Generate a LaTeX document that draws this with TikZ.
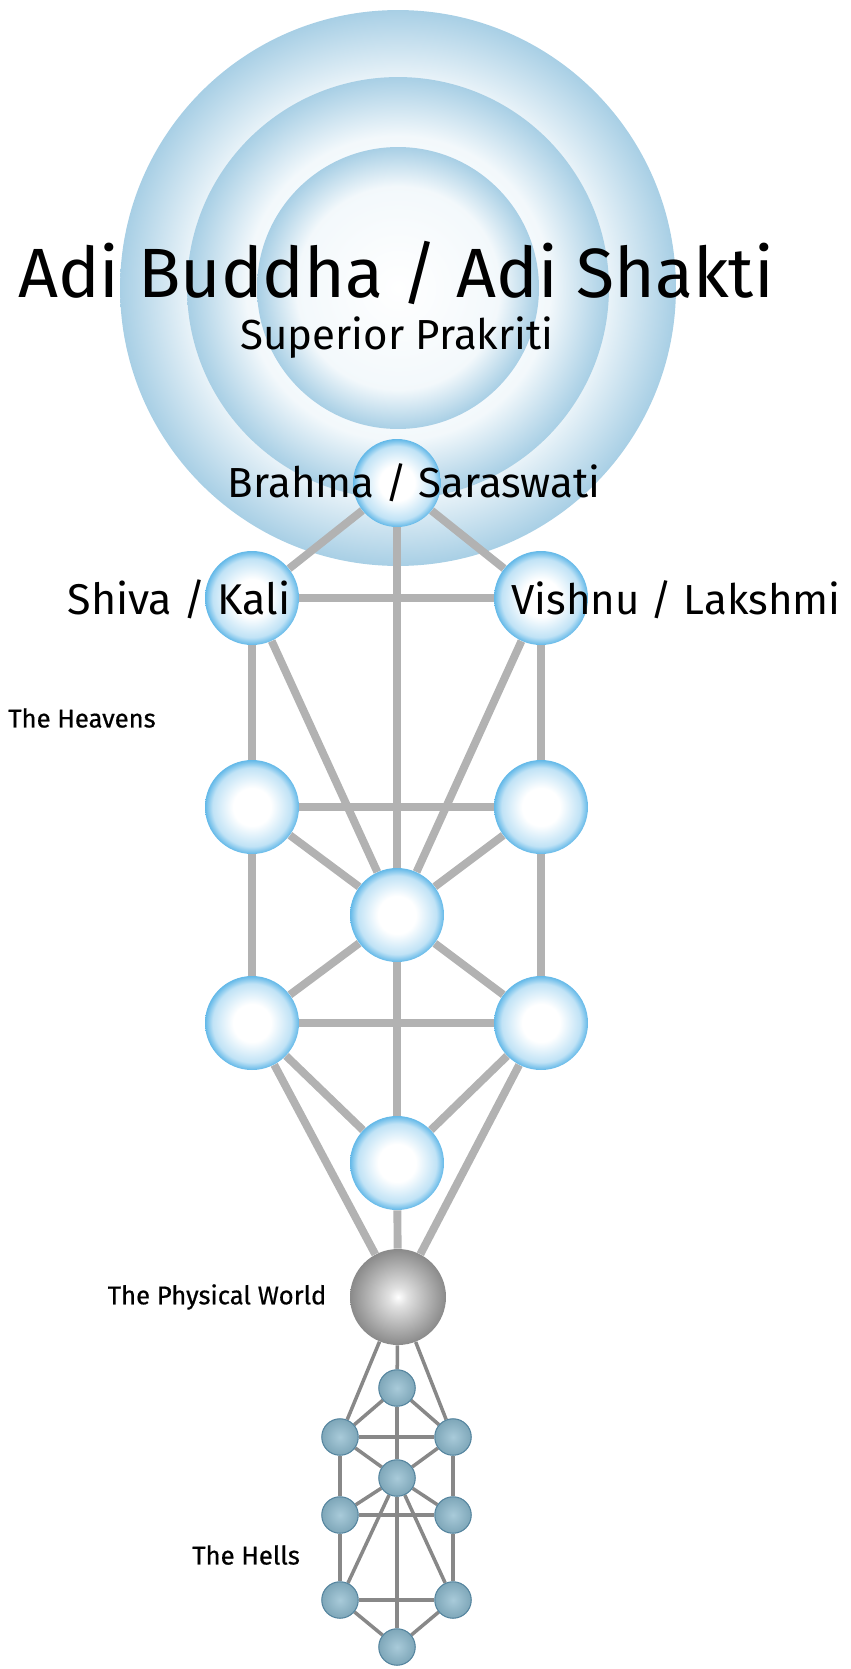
\documentclass[tikz,border=0pt]{standalone}
\usepackage{fontspec}
\setmainfont{Fira Sans}
\newfontfamily\realmfont{Fira Sans}[FakeBold=0.6]
\usetikzlibrary{positioning,backgrounds}
\definecolor{skyrim}{RGB}{98,184,232}
\definecolor{haloblue}{RGB}{168,207,229}
\definecolor{pathgray}{RGB}{178,178,178}
\definecolor{hellgray}{RGB}{136,136,136}
\definecolor{hellfill}{RGB}{140,185,205}
\definecolor{hellrim}{RGB}{84,132,158}
\definecolor{worldgray}{RGB}{138,138,138}
\pgfdeclareradialshading{sephira}{\pgfpoint{0bp}{0bp}}{color(0bp)=(white); color(10bp)=(white); color(21bp)=(skyrim!40); color(25bp)=(skyrim); color(50bp)=(skyrim)}
\pgfdeclareradialshading{halo}{\pgfpoint{0bp}{0bp}}{color(0bp)=(white); color(18bp)=(haloblue!14); color(25bp)=(haloblue); color(50bp)=(haloblue)}
\pgfdeclareradialshading{worldball}{\pgfpoint{0bp}{0bp}}{color(0bp)=(white); color(5bp)=(white!88!black); color(25bp)=(worldgray); color(50bp)=(worldgray)}
\pgfdeclareradialshading{hellball}{\pgfpoint{0bp}{0bp}}{color(0bp)=(hellfill!75!white); color(25bp)=(hellfill!90!black); color(50bp)=(hellfill!90!black)}

\begin{document}
\begin{tikzpicture}[x=0.02cm, y=-0.02cm,
    sephira/.style={circle, inner sep=0pt, minimum size=1.88cm, shade, shading=sephira},
    hell/.style={circle, inner sep=0pt, minimum size=0.73cm, shade, shading=hellball, draw=hellrim, line width=0.6pt},
    pathway/.style={pathgray, line width=4.5pt},
    hellway/.style={hellgray, line width=2pt},
    deity/.style={inner sep=0pt, anchor=base, font=\fontsize{23.9}{28}\selectfont},
    realm/.style={inner sep=0pt, font=\realmfont\fontsize{14.6}{17}\selectfont}]
  \useasboundingbox (0,0) rectangle (850,1669);
  \coordinate (halo) at (398,288);
  % Upper tree
  \node[sephira, minimum size=1.76cm] (brahma) at (397,483) {};
  \node[sephira] (shiva) at (252,598) {};
  \node[sephira] (vishnu) at (541,598) {};
  \node[sephira] (midl) at (252,807) {};
  \node[sephira] (midr) at (541,807) {};
  \node[sephira] (heart) at (397,915) {};
  \node[sephira] (lowl) at (252,1023) {};
  \node[sephira] (lowr) at (541,1023) {};
  \node[sephira] (root) at (397,1163) {};
  % Physical world
  \node[circle, inner sep=0pt, minimum size=1.92cm, shade, shading=worldball] (world) at (398,1297) {};
  % Hells
  \node[hell] (htop) at (397,1388) {};
  \node[hell] (hlu) at (340,1437) {};
  \node[hell] (hru) at (453,1437) {};
  \node[hell] (hmid) at (397,1478) {};
  \node[hell] (hlm) at (340,1515) {};
  \node[hell] (hrm) at (453,1515) {};
  \node[hell] (hll) at (340,1600) {};
  \node[hell] (hrl) at (453,1600) {};
  \node[hell] (hbot) at (397,1647) {};
  \begin{pgfonlayer}{background}
    % Halo
    \shade[shading=halo] (halo) circle (5.56cm);
    \shade[shading=halo] (halo) circle (4.22cm);
    \shade[shading=halo] (halo) circle (2.82cm);
    % Paths
    \foreach \a/\b in {brahma/shiva, brahma/vishnu, brahma/heart, shiva/vishnu, shiva/midl,
        vishnu/midr, shiva/heart, vishnu/heart, midl/midr, midl/heart, midr/heart,
        midl/lowl, midr/lowr, heart/lowl, heart/lowr, lowl/lowr, heart/root,
        lowl/root, lowr/root, lowl/world, lowr/world, root/world}
      \draw[pathway] (\a) -- (\b);
    \foreach \a/\b in {world/hlu, world/htop, world/hru, htop/hlu, htop/hru, hlu/hru,
        htop/hmid, hlu/hmid, hru/hmid, hlu/hlm, hru/hrm, hmid/hlm, hmid/hrm, hlm/hrm,
        hmid/hll, hmid/hrl, hmid/hbot, hlm/hll, hrm/hrl, hll/hrl, hll/hbot, hrl/hbot}
      \draw[hellway] (\a) -- (\b);
  \end{pgfonlayer}
  % Labels
  \node[deity, font=\fontsize{39.7}{44}\selectfont] (adi) at (396,297) {Adi Buddha / Adi Shakti};
  \node[deity] (prakriti) at (397,350) {Superior Prakriti};
  \node[deity] (brahmalabel) at (414,497) {Brahma / Saraswati};
  \node[deity, font=\fontsize{24.5}{28}\selectfont] (shivalabel) at (179,614) {Shiva / Kali};
  \node[deity] (vishnulabel) at (676,614) {Vishnu / Lakshmi};
  \node[realm, anchor=west] (heavens) at (8,718) {The Heavens};
  \node[realm, left=0.46cm of world] (physical) {The Physical World};
  \node[realm, anchor=west] (hells) at (192,1555) {The Hells};
\end{tikzpicture}
\end{document}
